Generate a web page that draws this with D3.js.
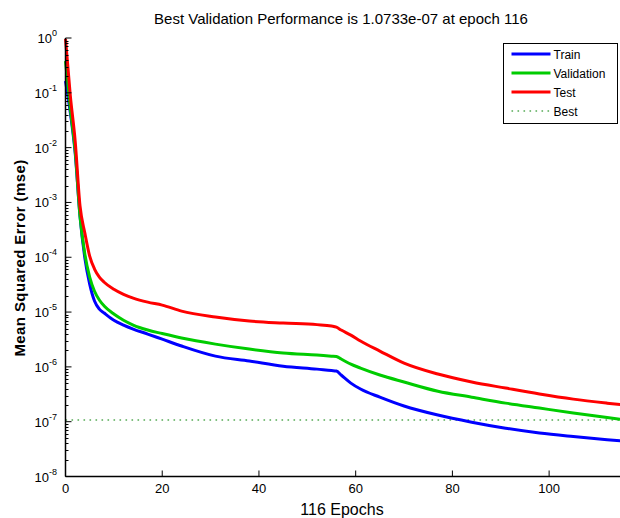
<!DOCTYPE html>
<html lang="en">
<head>
<meta charset="utf-8">
<title>Best Validation Performance</title>
<script src="https://cdn.jsdelivr.net/npm/d3@7"></script>
<style>
  body { margin: 0; background: #fff; }
  svg text { font-family: Arial, "Liberation Sans", sans-serif; fill: #000; }
  .line { fill: none; stroke-width: 3px; stroke-linejoin: round; }
</style>
</head>
<body>
<script>
// ---- data ---------------------------------------------------------------
var epochs = [0, 1, 2, 3, 4, 5, 6, 7, 8, 10, 12, 14, 17, 20, 24, 31, 38, 45, 52, 55, 56, 57, 59, 61, 65, 70, 77, 84, 91, 98, 105, 112, 116];

var trainMse = [0.164, 0.043, 8.0e-3, 5.6e-4, 9.7e-5, 3.24e-5, 1.59e-5, 1.13e-5, 9.6e-6, 7.1e-6, 5.8e-6, 4.9e-6, 3.97e-6, 3.2e-6, 2.4e-6, 1.57e-6,
                1.28e-6, 1.03e-6, 9.1e-7, 8.55e-7, 8.4e-7, 7.1e-7, 5.06e-7, 3.94e-7, 2.8e-7, 1.93e-7, 1.32e-7, 9.8e-8, 7.6e-8, 6.2e-8, 5.35e-8, 4.7e-8, 4.4e-8];

var validMse = [0.38, 0.051, 8.7e-3, 5.6e-4, 1.14e-4, 4.35e-5, 2.4e-5, 1.66e-5, 1.29e-5, 9.2e-6, 7.1e-6, 5.8e-6, 4.7e-6, 4.05e-6, 3.36e-6, 2.6e-6,
                2.11e-6, 1.79e-6, 1.64e-6, 1.57e-6, 1.55e-6, 1.39e-6, 1.12e-6, 9.5e-7, 7.1e-7, 5.3e-7, 3.6e-7, 2.8e-7, 2.18e-7, 1.77e-7, 1.44e-7, 1.19e-7, 1.0733e-7];

var testMse  = [0.96, 0.0875, 0.0132, 8.6e-4, 2.77e-4, 1.05e-4, 6.1e-5, 4.35e-5, 3.5e-5, 2.6e-5, 2.1e-5, 1.8e-5, 1.52e-5, 1.34e-5, 1.04e-5, 8.1e-6,
                6.85e-6, 6.3e-6, 5.9e-6, 5.55e-6, 5.3e-6, 4.7e-6, 3.8e-6, 2.96e-6, 1.94e-6, 1.17e-6, 7.4e-7, 5.3e-7, 4.1e-7, 3.2e-7, 2.58e-7, 2.18e-7, 2.0e-7];

var bestEpoch = 116;
var bestValue = 1.0733e-7;

var seriesNames = ["Train", "Validation", "Test", "Best"];
var seriesColors = ["#0000ff", "#00cc00", "#ff0000", "#228b22"];
var xTicks = [0, 20, 40, 60, 80, 100];
var yTickExps = [0, -1, -2, -3, -4, -5, -6, -7, -8];

var titleText = "Best Validation Performance is 1.0733e-07 at epoch 116";
var xLabel = "116 Epochs";
var yLabel = "Mean Squared Error  (mse)";

// ---- layout ---------------------------------------------------------------
var width = 620, height = 518;
var plotLeft = 65.5, plotRight = 626.5, plotTop = 38, plotBottom = 476.5;

var svg = d3.select("body").append("svg")
    .attr("width", width)
    .attr("height", height);

var x = d3.scaleLinear().domain([0, 116]).range([plotLeft, plotRight]);
var y = d3.scaleLog().domain([1e-8, 1]).range([plotBottom, plotTop]);

// ---- lines ----------------------------------------------------------------
var line = d3.line()
    .curve(d3.curveMonotoneX)
    .x(function(d) { return x(d[0]); })
    .y(function(d) { return y(d[1]); });

// best dotted line first (under the curves)
svg.append("line")
    .attr("x1", x(0)).attr("x2", x(bestEpoch))
    .attr("y1", y(bestValue)).attr("y2", y(bestValue))
    .attr("stroke", "#55aa55")
    .attr("stroke-width", 1.6)
    .attr("stroke-dasharray", "1.6,4.4");

var allSeries = [trainMse, validMse, testMse];
allSeries.forEach(function(vals, i) {
    svg.append("path")
        .attr("class", "line")
        .attr("stroke", seriesColors[i])
        .attr("d", line(epochs.map(function(e, k) { return [e, vals[k]]; })));
});

svg.append("circle")
    .attr("cx", x(bestEpoch))
    .attr("cy", y(bestValue))
    .attr("r", 6)
    .attr("fill", "none")
    .attr("stroke", "#228b22")
    .attr("stroke-width", 1);

// ---- axes -----------------------------------------------------------------
var axisG = svg.append("g");

axisG.append("line")
    .attr("x1", plotLeft).attr("x2", plotLeft)
    .attr("y1", plotTop).attr("y2", plotBottom)
    .attr("stroke", "#000").attr("stroke-width", 1.5);
axisG.append("line")
    .attr("x1", plotLeft).attr("x2", width)
    .attr("y1", plotBottom).attr("y2", plotBottom)
    .attr("stroke", "#000").attr("stroke-width", 1.5);

// y major + minor ticks, pointing inward
var minorVals = [];
yTickExps.forEach(function(e) {
    if (e < 0) for (var m = 2; m <= 9; m++) minorVals.push(m * Math.pow(10, e));
});
axisG.selectAll(".ymin").data(minorVals).join("line")
    .attr("x1", plotLeft).attr("x2", plotLeft + 3)
    .attr("y1", function(d) { return Math.round(y(d)) + 0.5; })
    .attr("y2", function(d) { return Math.round(y(d)) + 0.5; })
    .attr("stroke", "#000");
axisG.selectAll(".ymaj").data(yTickExps).join("line")
    .attr("x1", plotLeft).attr("x2", plotLeft + 6)
    .attr("y1", function(d) { return y(Math.pow(10, d)); })
    .attr("y2", function(d) { return y(Math.pow(10, d)); })
    .attr("stroke", "#000");

var yLab = axisG.selectAll(".ylab").data(yTickExps).join("text")
    .attr("x", 57)
    .attr("y", function(d) { return y(Math.pow(10, d)) + 5; })
    .attr("text-anchor", "end")
    .style("font-size", "13px")
    .text("10");
yLab.append("tspan")
    .attr("dy", -7)
    .style("font-size", "9px")
    .text(function(d) { return d; });

// x ticks
axisG.selectAll(".xmaj").data(xTicks).join("line")
    .attr("x1", function(d) { return x(d); })
    .attr("x2", function(d) { return x(d); })
    .attr("y1", plotBottom).attr("y2", plotBottom - 6)
    .attr("stroke", "#000");
axisG.selectAll(".xlab").data(xTicks).join("text")
    .attr("x", function(d) { return x(d); })
    .attr("y", plotBottom + 16)
    .attr("text-anchor", "middle")
    .style("font-size", "13px")
    .text(function(d) { return d; });

// ---- titles ---------------------------------------------------------------
svg.append("text")
    .attr("x", 341).attr("y", 24)
    .attr("text-anchor", "middle")
    .style("font-size", "15px")
    .text(titleText);

svg.append("text")
    .attr("x", 342).attr("y", 515)
    .attr("text-anchor", "middle")
    .style("font-size", "16px")
    .text(xLabel);

svg.append("text")
    .attr("transform", "translate(25,258) rotate(-90)")
    .attr("text-anchor", "middle")
    .style("font-size", "15px")
    .style("letter-spacing", "0.4px")
    .style("font-weight", "bold")
    .text(yLabel);

// ---- legend ---------------------------------------------------------------
var legend = svg.append("g").attr("transform", "translate(503.5,43.5)");
legend.append("rect")
    .attr("width", 114).attr("height", 80)
    .attr("fill", "#fff")
    .attr("stroke", "#000");

var rows = legend.selectAll(".row").data(seriesNames).join("g")
    .attr("transform", function(d, i) { return "translate(0," + (10.5 + i * 19) + ")"; });
rows.append("line")
    .attr("x1", 8).attr("x2", 47)
    .attr("stroke", function(d, i) { return i < 3 ? seriesColors[i] : "#55aa55"; })
    .attr("stroke-width", function(d, i) { return i < 3 ? 3 : 1.6; })
    .attr("stroke-dasharray", function(d, i) { return i < 3 ? null : "1.6,4.4"; });
rows.append("text")
    .attr("x", 50).attr("y", 4.5)
    .style("font-size", "12px")
    .text(function(d) { return d; });
</script>
</body>
</html>
